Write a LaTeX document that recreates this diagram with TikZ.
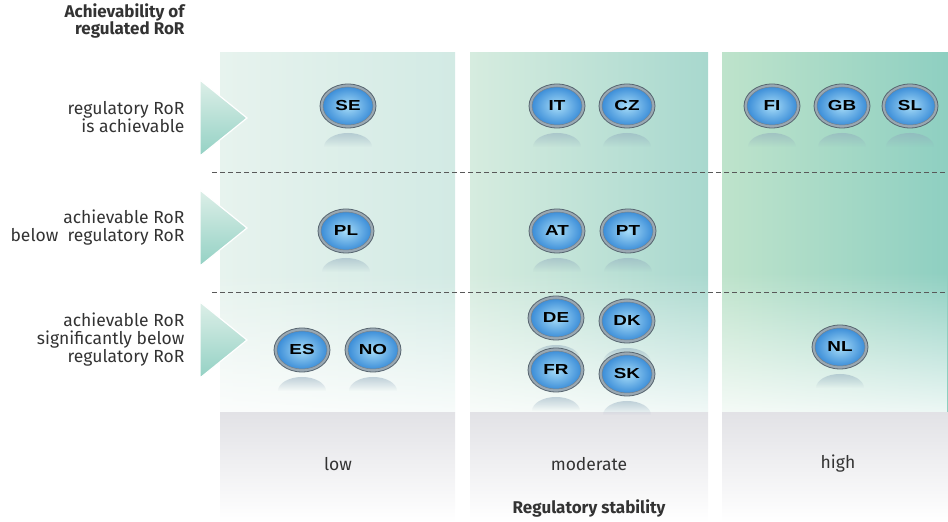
\documentclass[tikz,border=0pt]{standalone}
\usepackage{fontspec}
\setmainfont{Fira Sans}
\newfontfamily\bubblefont[FakeStretch=1.3]{Liberation Sans}
\usetikzlibrary{positioning, shapes.geometric, fadings}

\definecolor{txtgray}{HTML}{333333}
\definecolor{colAl}{HTML}{E7F3EE}
\definecolor{colAr}{HTML}{D2EAE4}
\definecolor{colBl}{HTML}{D6ECDF}
\definecolor{colBr}{HTML}{A8D8CE}
\definecolor{colCl}{HTML}{BEE3CB}
\definecolor{colCr}{HTML}{8ECFC1}
\definecolor{triTop}{HTML}{DDEFE8}
\definecolor{triBot}{HTML}{93D1C4}
\definecolor{bandgray}{HTML}{E2E2E6}
\definecolor{ringgray}{HTML}{9AA8B2}
\definecolor{ringdark}{HTML}{56646F}
\definecolor{bubin}{HTML}{A6DCF8}
\definecolor{bubout}{HTML}{2F84D4}
\definecolor{reflcol}{HTML}{8FA9BC}

\tikzfading[name=fadeup, top color=transparent!100, bottom color=transparent!15]
\tikzfading[name=fadedown, top color=transparent!50, bottom color=transparent!100]

\tikzset{
  rowlabel/.style={align=right, anchor=east, text=txtgray,
    font=\fontsize{17.5}{18}\selectfont},
  titlelabel/.style={rowlabel, font=\bfseries\fontsize{17}{17}\selectfont},
  collabel/.style={text=txtgray, font=\fontsize{17.5}{18}\selectfont},
  axislabel/.style={collabel, font=\bfseries\fontsize{17}{18}\selectfont},
  arrowtri/.style={top color=triTop, bottom color=triBot, draw=white, line width=1.2pt},
  sepline/.style={dashed, dash pattern=on 5pt off 3pt, color=gray!70!black, line width=0.7pt},
  bubble/.style={ellipse, minimum width=56pt, minimum height=44pt, inner sep=0pt,
    draw=ringdark, line width=0.8pt, fill=ringgray,
    font=\bubblefont\bfseries\fontsize{14.5}{14.5}\selectfont,
    path picture={
      \shade[inner color=bubin, outer color=bubout]
        (path picture bounding box.center) ellipse [x radius=25pt, y radius=19pt];
      \draw[ringdark!80, line width=0.5pt]
        (path picture bounding box.center) ellipse [x radius=25pt, y radius=19pt];
    }},
  refl/.style={fill=reflcol, path fading=fadedown}
}

\begin{document}
\begin{tikzpicture}[x=1pt,y=1pt]
  \useasboundingbox (0,0) rectangle (948,522);
  % the three columns
  \shade[left color=colAl, right color=colAr] (220,109) rectangle (455,469);
  \shade[left color=colBl, right color=colBr] (470,109) rectangle (708,469);
  \shade[left color=colCl, right color=colCr] (722,109) rectangle (948,469);
  \fill[white, path fading=fadeup] (220,109) rectangle (948,250);
  % grey band at the bottom
  \foreach \xa/\xb in {220/455, 470/708, 722/948}
    \shade[top color=bandgray, bottom color=white] (\xa,0) rectangle (\xb,109);
  % dashed row separators
  \foreach \y in {350,230}
    \draw[sepline] (212,\y) -- (948,\y);
  % row arrows
  \foreach \y in {404,294,182}
    \shadedraw[arrowtri] (200,\y+38) -- (247,\y) -- (200,\y-38) -- cycle;

  \node[titlelabel] (yaxis) at (188,501) {Achievability of\\regulated RoR};
  \node[rowlabel] (rowA) at (188,405) {regulatory RoR\\is achievable};
  \node[rowlabel] (rowB) at (188,294) {achievable RoR\\below\ \ regulatory RoR};
  \node[rowlabel] (rowC) at (188,182) {achievable RoR\\significantly below\\regulatory RoR};

  \node[collabel] (low) at (338,58) {low};
  \node[collabel] (moderate) at (589,58) {moderate};
  \node[collabel] (high) at (838,58) {high};
  \node[axislabel] (xaxis) at (589,14) {Regulatory stability};

  % edit here for the countries: name/x/y
  \foreach \cc/\x/\y in {SE/348/416, IT/557/416, CZ/627/416, FI/772/416, GB/842/416, SL/910/416,
                         PL/346/291, AT/557/291, PT/628/291,
                         ES/302/172, NO/373/172, DE/556/204, DK/627/201, FR/556/152, SK/627/148,
                         NL/840/175}
  {
    \fill[refl] (\x-24,\y-41) arc[start angle=180, end angle=0, x radius=24, y radius=14] -- cycle;
    \node[bubble] (\cc) at (\x,\y) {\cc};
  }
\end{tikzpicture}
\end{document}
